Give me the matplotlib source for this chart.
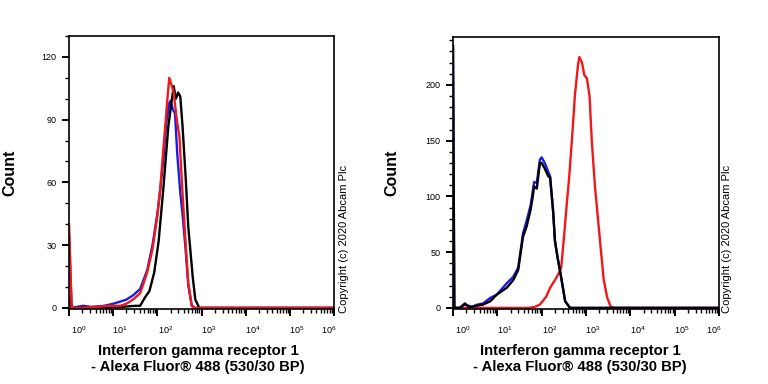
import numpy as np
import matplotlib
matplotlib.use('Agg')
import matplotlib.pyplot as plt
import matplotlib.transforms as mtransforms
from matplotlib.ticker import FixedLocator, LogLocator, NullFormatter, MultipleLocator

plt.rcParams['font.family'] = ['Liberation Sans', 'DejaVu Sans']
plt.rcParams['mathtext.fontset'] = 'custom'
plt.rcParams['mathtext.rm'] = 'Liberation Sans'
plt.rcParams['mathtext.it'] = 'Liberation Sans'
plt.rcParams['mathtext.default'] = 'regular'

# ---- left panel (log10 of fluorescence, count) ----
left_red_log = [0.0, 0.06, 0.3, 0.6, 0.9, 1.16, 1.3, 1.45, 1.61, 1.77, 1.89, 2.0, 2.07, 2.14,
                2.18, 2.22, 2.27, 2.33, 2.37, 2.44, 2.5, 2.57, 2.64, 2.7, 2.78, 2.85, 3.0, 6.0]
left_red_cnt = [40, 0, 0, 0.5, 1, 1, 2, 4, 7, 17, 28, 44, 58, 77,
                87, 98, 110, 106, 103, 90, 82, 55, 31, 12, 1, 0, 0, 0]

left_blue_log = [0.0, 0.06, 0.32, 0.5, 0.8, 1.0, 1.16, 1.3, 1.45, 1.61, 1.77, 1.89, 2.0, 2.07,
                 2.14, 2.2, 2.27, 2.3, 2.35, 2.4, 2.45, 2.52, 2.57, 2.64, 2.7, 2.78, 2.85, 3.0, 6.0]
left_blue_cnt = [35, 0, 1, 0.5, 1, 2, 3, 4, 6, 9, 18, 30, 45, 57,
                 72, 88, 98, 99, 95, 93, 74, 55, 45, 28, 11, 1, 0, 0, 0]

left_black_log = [0.0, 0.06, 0.3, 0.8, 1.2, 1.5, 1.61, 1.72, 1.82, 1.93, 2.03, 2.14, 2.25, 2.3,
                  2.37, 2.42, 2.47, 2.52, 2.57, 2.64, 2.7, 2.8, 2.86, 2.95, 3.1, 6.0]
left_black_cnt = [5, 0, 0, 0, 0.5, 1, 1, 5, 8, 17, 32, 58, 87, 95,
                  106, 100, 103, 101, 87, 63, 39, 15, 4, 0, 0, 0]

# ---- right panel ----
right_bk_log = [0.0, 0.03, 0.15, 0.27, 0.35, 0.42, 0.55, 0.68, 0.84, 0.99, 1.1, 1.21, 1.36, 1.47,
                1.58, 1.66, 1.75, 1.8, 1.83, 1.89, 1.96, 2.0, 2.07, 2.15, 2.19, 2.26, 2.3, 2.36,
                2.42, 2.53, 2.64, 2.8, 6.0]
right_black_cnt = [235, 0, 0, 4, 1, 1, 2, 3, 6, 12, 15, 18, 25, 34,
                   64, 73, 88, 100, 109, 107, 130, 130, 125, 118, 117, 86, 60, 45,
                   32, 6, 0, 0, 0]
right_blue_cnt = [235, 0, 0, 3, 2, 1, 3, 4, 9, 12, 17, 22, 28, 36,
                  67, 78, 92, 105, 113, 112, 133, 135, 130, 122, 118, 86, 60, 45,
                  32, 6, 0, 0, 0]

right_red_log = [0.0, 1.7, 1.85, 1.96, 2.1, 2.19, 2.3, 2.37, 2.44, 2.5, 2.57, 2.62, 2.69, 2.75,
                 2.82, 2.85, 2.91, 2.96, 3.02, 3.08, 3.13, 3.2, 3.27, 3.34, 3.4, 3.48, 3.56, 3.65, 6.0]
right_red_cnt = [0, 0, 1, 3, 10, 18, 25, 30, 36, 62, 95, 117, 155, 191,
                 218, 225, 220, 209, 206, 190, 150, 110, 80, 50, 25, 9, 1, 0, 0]

decades = [0, 1, 2, 3, 4, 5, 6]
left_yticks = [0, 30, 60, 90, 120]
right_yticks = [0, 50, 100, 150, 200]

xlabel_text = 'Interferon gamma receptor 1\n- Alexa Fluor\u00ae 488 (530/30 BP)'
copyright_text = 'Copyright (c) 2020 Abcam Plc'

RED = '#f01818'
BLUE = '#1a1ae6'
BLACK = '#000000'

fig = plt.figure(figsize=(7.68, 3.84), dpi=100, facecolor='white')

ax1 = fig.add_axes([69/768, 1-309/384, (334-69)/768, (309-36)/384])
ax2 = fig.add_axes([453/768, 1-309/384, (719-453)/768, (309-37)/384])


def style_axis(ax, yticks, ymax, minor_step):
    ax.set_xscale('log')
    ax.set_xlim(1, 1e6)
    ax.set_ylim(-0.004 * ymax, ymax)
    for s in ax.spines.values():
        s.set_linewidth(1.2)
    ax.xaxis.set_major_locator(FixedLocator([10.0 ** d for d in decades]))
    ax.xaxis.set_minor_locator(LogLocator(base=10, subs=range(2, 10), numticks=20))
    ax.xaxis.set_minor_formatter(NullFormatter())
    ax.set_xticklabels([r'$10^{%d}$' % d for d in decades])
    ax.set_yticks(yticks)
    ax.yaxis.set_minor_locator(MultipleLocator(minor_step))
    ax.tick_params(axis='both', which='major', direction='out', length=5, width=1.4,
                   labelsize=6.5, pad=4)
    ax.tick_params(axis='both', which='minor', direction='out', length=3, width=1.0)
    ax.tick_params(axis='x', which='major', pad=6)
    shifts = [10, 7, 8, 7, 7, 7, -5]
    for lab, dx in zip(ax.get_xticklabels(), shifts):
        lab.set_transform(lab.get_transform() +
                          mtransforms.ScaledTranslation(dx / 100, 0, fig.dpi_scale_trans))


style_axis(ax1, left_yticks, 130, 10)
style_axis(ax2, right_yticks, 243, 10)

lw = 1.7
ax1.plot(10 ** np.array(left_blue_log), left_blue_cnt, color=BLUE, lw=lw)
ax1.plot(10 ** np.array(left_black_log), left_black_cnt, color=BLACK, lw=lw)
ax1.plot(10 ** np.array(left_red_log), left_red_cnt, color=RED, lw=lw)

ax2.plot(10 ** np.array(right_red_log), right_red_cnt, color=RED, lw=lw)
ax2.plot(10 ** np.array(right_bk_log), right_blue_cnt, color=BLUE, lw=lw)
ax2.plot(10 ** np.array(right_bk_log), right_black_cnt, color=BLACK, lw=lw)

for x_cnt, x_lab, x_copy in [(10, 198, 344), (392, 580, 727)]:
    fig.text(x_cnt / 768, 1 - 173 / 384, 'Count', rotation=90, fontsize=11.5,
             fontweight='bold', ha='center', va='center')
    fig.text(x_lab / 768, 1 - 359 / 384, xlabel_text, fontsize=10.7, fontweight='bold',
             ha='center', va='center', linespacing=1.2)
    fig.text(x_copy / 768, 1 - 313 / 384, copyright_text, rotation=90, fontsize=8,
             ha='center', va='bottom')

fig.savefig('out.png', dpi=100, facecolor='white')
